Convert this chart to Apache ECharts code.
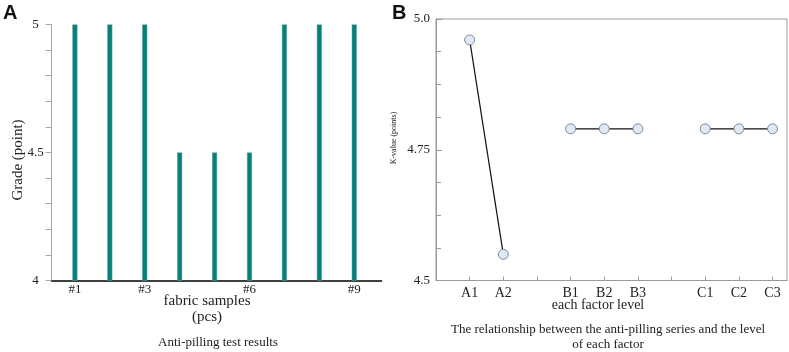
<!DOCTYPE html>
<html>
<head>
<meta charset="utf-8">
<script src="https://cdn.jsdelivr.net/npm/echarts@6/dist/echarts.min.js"></script>
<style>
  html, body { margin: 0; background: #fff; }
  #chart { width: 789px; height: 352px; }
</style>
</head>
<body>
<div id="chart"></div>
<script>
// panel A: anti-pilling grade per fabric sample
const samples = ['#1', '#2', '#3', '#4', '#5', '#6', '#7', '#8', '#9']
const grades = [5, 5, 5, 4.5, 4.5, 4.5, 5, 5, 5]
const sampleTickLabels = ['#1', '#3', '#6', '#9']

// panel B: K-value for each factor level
const factorLevels = [['A1', 'A2'], ['B1', 'B2', 'B3'], ['C1', 'C2', 'C3']]
const kValues = [[4.96, 4.55], [4.79, 4.79, 4.79], [4.79, 4.79, 4.79]]

const serif = 'Liberation Serif'

// slot index for each level, one empty slot between factor groups
const levelNames = []
const levelSlots = []
const groupData = []
let slot = 1
factorLevels.forEach((group, g) => {
  const pts = []
  group.forEach((name, i) => {
    levelNames.push(name)
    levelSlots.push(slot)
    pts.push([slot, kValues[g][i]])
    slot++
  })
  groupData.push(pts)
  slot++
})
const allSlots = []
for (let s = 1; s <= levelSlots[levelSlots.length - 1]; s++) allSlots.push(s)

const sampleSlots = sampleTickLabels.map(l => samples.indexOf(l) + 1)

const chart = echarts.init(document.getElementById('chart'))

chart.setOption({
  animation: false,
  grid: [
    { left: 51.5, top: 24.5, width: 330, height: 256, containLabel: false },
    {
      left: 436, top: 19, width: 351, height: 261.5, containLabel: false,
      show: true, borderColor: '#9a9a9a', borderWidth: 1
    }
  ],
  xAxis: [
    {
      gridIndex: 0,
      type: 'value',
      min: 0.33,
      max: 9.78,
      splitLine: { show: false },
      axisLine: { show: true, lineStyle: { color: '#000', width: 1.5 } },
      axisTick: { show: false },
      axisLabel: {
        customValues: sampleSlots,
        formatter: v => samples[Math.round(v) - 1],
        margin: 3,
        color: '#222',
        fontFamily: serif,
        fontSize: 13
      }
    },
    {
      gridIndex: 1,
      type: 'value',
      min: 0,
      max: 10.43,
      splitLine: { show: false },
      axisLine: { show: true, lineStyle: { color: '#9a9a9a', width: 1 } },
      axisTick: {
        show: true,
        inside: true,
        length: 4,
        customValues: allSlots,
        lineStyle: { color: '#9a9a9a' }
      },
      axisLabel: {
        customValues: levelSlots,
        formatter: v => levelNames[levelSlots.indexOf(Math.round(v))],
        margin: 6,
        color: '#222',
        fontFamily: serif,
        fontSize: 14
      }
    }
  ],
  yAxis: [
    {
      gridIndex: 0,
      type: 'value',
      min: 4,
      max: 5,
      interval: 0.5,
      splitLine: { show: false },
      axisLine: { show: true, lineStyle: { color: '#a8a8a8', width: 1 } },
      axisTick: { show: true, length: 6, lineStyle: { color: '#a8a8a8' } },
      minorTick: { show: true, splitNumber: 5, length: 6, lineStyle: { color: '#a8a8a8' } },
      axisLabel: { margin: 16, align: 'center', color: '#222', fontFamily: serif, fontSize: 13 }
    },
    {
      gridIndex: 1,
      type: 'value',
      min: 4.5,
      max: 5,
      interval: 0.25,
      splitLine: { show: false },
      axisLine: { show: true, lineStyle: { color: '#9a9a9a', width: 1 } },
      axisTick: { show: true, inside: true, length: 6, lineStyle: { color: '#9a9a9a' } },
      minorTick: { show: true, splitNumber: 4, length: 5, lineStyle: { color: '#9a9a9a' } },
      axisLabel: {
        margin: 6,
        color: '#222',
        fontFamily: serif,
        fontSize: 13,
        formatter: v => (v === 5 ? '5.0' : String(v))
      }
    }
  ],
  series: [
    {
      type: 'bar',
      xAxisIndex: 0,
      yAxisIndex: 0,
      barWidth: 5,
      itemStyle: { color: '#07807b', borderColor: '#5e9e9a', borderWidth: 0.5 },
      data: grades.map((g, i) => [i + 1, g])
    },
    ...groupData.map(pts => ({
      type: 'line',
      xAxisIndex: 1,
      yAxisIndex: 1,
      symbol: 'circle',
      symbolSize: 10,
      lineStyle: { color: '#111', width: 1.2 },
      itemStyle: { color: '#dfe8f3', borderColor: '#7d8a99', borderWidth: 1 },
      data: pts
    }))
  ],
  graphic: [
    { type: 'text', x: 3, y: 3, style: { text: 'A', font: 'bold 20px "Liberation Sans"', fill: '#111' } },
    { type: 'text', x: 392, y: 3, style: { text: 'B', font: 'bold 20px "Liberation Sans"', fill: '#111' } },
    {
      type: 'text', x: 18, y: 160, rotation: Math.PI / 2,
      style: { text: 'Grade (point)', font: '15px "Liberation Serif"', fill: '#222', textAlign: 'center', textVerticalAlign: 'middle' }
    },
    {
      type: 'text', x: 207, y: 301,
      style: { text: 'fabric samples', font: '15px "Liberation Serif"', fill: '#222', textAlign: 'center', textVerticalAlign: 'middle' }
    },
    {
      type: 'text', x: 207, y: 317,
      style: { text: '(pcs)', font: '15px "Liberation Serif"', fill: '#222', textAlign: 'center', textVerticalAlign: 'middle' }
    },
    {
      type: 'text', x: 218, y: 343,
      style: { text: 'Anti-pilling test results', font: '13px "Liberation Serif"', fill: '#222', textAlign: 'center', textVerticalAlign: 'middle' }
    },
    {
      type: 'text', x: 394, y: 138, rotation: Math.PI / 2,
      style: { text: 'K-value (points)', font: '8px "Liberation Serif"', fill: '#222', textAlign: 'center', textVerticalAlign: 'middle' }
    },
    {
      type: 'text', x: 598, y: 305,
      style: { text: 'each factor level', font: '14px "Liberation Serif"', fill: '#222', textAlign: 'center', textVerticalAlign: 'middle' }
    },
    {
      type: 'text', x: 608, y: 330,
      style: { text: 'The relationship between the anti-pilling series and the level', font: '13px "Liberation Serif"', fill: '#222', textAlign: 'center', textVerticalAlign: 'middle' }
    },
    {
      type: 'text', x: 608, y: 345,
      style: { text: 'of each factor', font: '13px "Liberation Serif"', fill: '#222', textAlign: 'center', textVerticalAlign: 'middle' }
    }
  ]
})
</script>
</body>
</html>
